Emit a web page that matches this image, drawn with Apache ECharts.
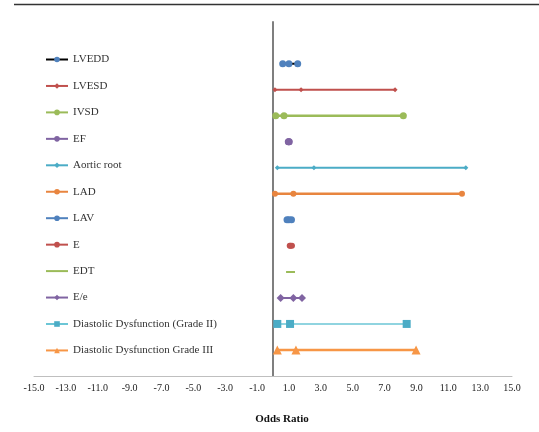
<!DOCTYPE html>
<html>
<head>
<meta charset="utf-8">
<script src="https://cdn.jsdelivr.net/npm/echarts@6/dist/echarts.min.js"></script>
<style>html,body{margin:0;padding:0;background:#fff}#c{width:539px;height:432px}</style>
</head>
<body>
<div id="c"></div>
<script>
// Odds ratio rows: [lower CI, OR, upper CI]
const names = ["LVEDD","LVESD","IVSD","EF","Aortic root","LAD","LAV","E","EDT","E/e","Diastolic Dysfunction (Grade II)","Diastolic Dysfunction Grade III"];
const rowPos = [12,11,10,9,8,7,6,5,4,3,2,1];
const lvedd = [0.61, 1.0, 1.55];
const lvesd = [0.12, 1.76, 7.66];
const ivsd = [0.17, 0.69, 8.18];
const ef = [0.96, 0.99, 1.02];
const aortic = [0.27, 2.57, 12.1];
const lad = [0.12, 1.28, 11.86];
const lav = [0.88, 1.0, 1.16];
const eVals = [1.05, 1.1, 1.19];
const edt = [0.82, 1.1, 1.38];
const eOverE = [0.48, 1.28, 1.82];
const ddII = [0.27, 1.07, 8.39];
const ddIII = [0.27, 1.44, 8.98];
const xTicks = {min: -15, max: 15, step: 2};

const values = [lvedd, lvesd, ivsd, ef, aortic, lad, lav, eVals, edt, eOverE, ddII, ddIII];
const styles = [
  {line:'#000000', mk:'#4F81BD', sym:'circle', size:7, w:2},
  {line:'#C0504D', mk:'#C0504D', sym:'diamond', size:5, w:2},
  {line:'#9BBB59', mk:'#9BBB59', sym:'circle', size:7, w:2.5},
  {line:'#8064A2', mk:'#8064A2', sym:'circle', size:7, w:2},
  {line:'#4BACC6', mk:'#4BACC6', sym:'diamond', size:5, w:2},
  {line:'#E8853F', mk:'#E8853F', sym:'circle', size:6, w:2.5},
  {line:'#4F81BD', mk:'#4F81BD', sym:'circle', size:7, w:2},
  {line:'#C0504D', mk:'#C0504D', sym:'circle', size:6, w:2},
  {line:'#9BBB59', mk:'#9BBB59', sym:'none', size:0, w:2},
  {line:'#8064A2', mk:'#8064A2', sym:'diamond', size:8, w:2},
  {line:'#6CC6D6', mk:'#4BACC6', sym:'rect', size:8, w:1.5},
  {line:'#F79646', mk:'#F79646', sym:'triangle', size:9, w:2.5}
];

const series = names.map((n, i) => ({
  name: n,
  type: 'line',
  data: values[i].map(v => [v, rowPos[i]]),
  symbol: styles[i].sym,
  symbolSize: styles[i].size,
  showSymbol: styles[i].sym !== 'none',
  lineStyle: {color: styles[i].line, width: styles[i].w},
  itemStyle: {color: styles[i].mk},
  animation: false,
  silent: true
}));

const legendData = names.map((n, i) => styles[i].sym === 'none'
  ? {name: n, itemStyle: {opacity: 0}}
  : {name: n});

const chart = echarts.init(document.getElementById('c'), null, {renderer: 'canvas'});
chart.setOption({
  backgroundColor: '#fff',
  animation: false,
  grid: {left: 34, right: 27, top: 22, bottom: 56, containLabel: false},
  legend: {
    orient: 'vertical', left: 40, top: 49,
    itemWidth: 22, itemHeight: 7, itemGap: 15.45,
    textStyle: {fontFamily: 'Liberation Serif', fontSize: 11, color: '#333'},
    data: legendData
  },
  xAxis: {
    type: 'value', min: xTicks.min, max: xTicks.max, interval: xTicks.step,
    axisLine: {show: true, lineStyle: {color: '#bfbfbf', width: 1}},
    axisTick: {show: false},
    splitLine: {show: false},
    axisLabel: {formatter: v => v.toFixed(1), fontFamily: 'Liberation Serif', fontSize: 10, color: '#222', margin: 7},
    name: 'Odds Ratio', nameLocation: 'middle', nameGap: 38,
    nameTextStyle: {fontFamily: 'Liberation Serif', fontSize: 11, fontWeight: 'bold', color: '#111', padding: [0,0,0,18]}
  },
  yAxis: {
    type: 'value', min: 0, max: 13.6,
    axisLine: {show: true, onZero: true, lineStyle: {color: '#7f7f7f', width: 2}},
    axisTick: {show: false}, axisLabel: {show: false}, splitLine: {show: false}
  },
  graphic: [{
    type: 'line', shape: {x1: 14, y1: 4.5, x2: 539, y2: 4.5},
    style: {stroke: '#333', lineWidth: 1.5}
  }],
  series: series
});
</script>
</body>
</html>
